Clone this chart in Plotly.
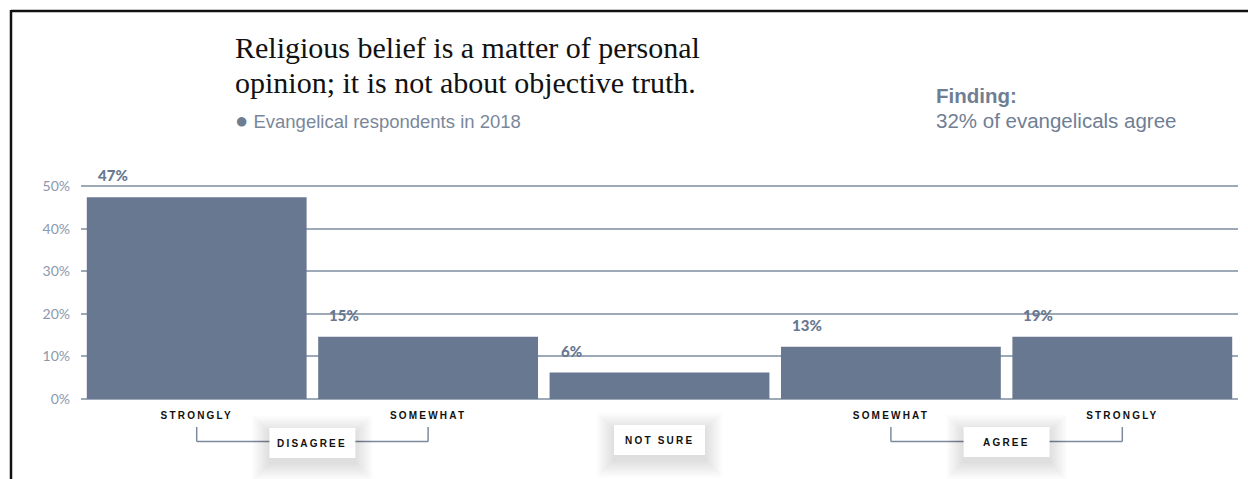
import plotly.graph_objects as go

# ---------------- data ----------------
categories = ["Strongly disagree", "Somewhat disagree", "Not sure", "Somewhat agree", "Strongly agree"]
values = [47.4, 14.6, 6.2, 12.3, 14.6]          # bar heights as drawn
value_labels = ["47%", "15%", "6%", "13%", "19%"]  # printed labels
tick_labels = ["STRONGLY", "SOMEWHAT", "", "SOMEWHAT", "STRONGLY"]
y_ticks = [0, 10, 20, 30, 40, 50]
y_tick_text = ["0%", "10%", "20%", "30%", "40%", "50%"]
groups = ["DISAGREE", "NOT SURE", "AGREE"]
title_lines = ["Religious belief is a matter of personal", "opinion; it is not about objective truth."]
legend_text = "Evangelical respondents in 2018"
finding_head = "Finding:"
finding_text = "32% of evangelicals agree"

# ---------------- layout geometry ----------------
W, H = 1248, 479
L, R, T, B = 81, 10, 184, 80
PW, PH = W - L - R, H - T - B
Y_MAX = 50.5

def px(x):
    return (x - L) / PW

def py(y):
    return (H - B - y) / PH

BAR = "#687891"
GRID = "#9ea9b8"
TICK = "#8c98ab"
BRACKET = "#7d8a9e"

def spaced(t, s=2.2):
    return "<span style='letter-spacing:%.1fpx'><b>%s</b></span>" % (s, t) if t else ""

xs = list(range(len(categories)))

fig = go.Figure()
fig.add_trace(go.Bar(
    x=xs, y=values, marker=dict(color=BAR, line=dict(width=0)),
    hoverinfo="skip", showlegend=False, cliponaxis=False,
))

annotations = []
# value labels
for i, (v, lab) in enumerate(zip(values, value_labels)):
    annotations.append(dict(
        x=i - 0.475, y=v, xref="x", yref="y", text=lab, showarrow=False,
        xanchor="left", yanchor="bottom", xshift=9, yshift=11,
        font=dict(family="Lato", size=15, color=BAR, weight=900),
    ))

# title
for line, yc in zip(title_lines, [48, 83]):
    annotations.append(dict(x=px(233), y=py(yc), xref="paper", yref="paper", text=line,
                            showarrow=False, xanchor="left", yanchor="middle",
                            font=dict(family="Liberation Serif", size=30, color="#111111")))
# legend
annotations.append(dict(x=px(233), y=py(120), xref="paper", yref="paper",
                        text="<span style='color:#6f7d91;font-size:22px'>●</span> " + legend_text,
                        showarrow=False, xanchor="left", yanchor="middle",
                        font=dict(family="Liberation Sans", size=18.5, color="#7a879a")))
# finding
annotations.append(dict(x=px(934), y=py(95), xref="paper", yref="paper", text="<b>" + finding_head + "</b>",
                        showarrow=False, xanchor="left", yanchor="middle",
                        font=dict(family="Liberation Sans", size=20.5, color="#6f7e94")))
annotations.append(dict(x=px(934), y=py(120), xref="paper", yref="paper", text=finding_text,
                        showarrow=False, xanchor="left", yanchor="middle",
                        font=dict(family="Liberation Sans", size=20.5, color="#6f7e94")))

shapes = []
# frame lines (top and left)
shapes.append(dict(type="line", xref="paper", yref="paper", x0=px(11), x1=px(W + 5), y0=py(11), y1=py(11),
                   line=dict(color="#111111", width=2.5)))
shapes.append(dict(type="line", xref="paper", yref="paper", x0=px(11), x1=px(11), y0=py(10), y1=py(H + 5),
                   line=dict(color="#111111", width=2.5)))

# brackets
bracket_top, bracket_bot = py(427), py(441.5)
for a, b in [(0, 1), (3, 4)]:
    for xx in (a, b):
        shapes.append(dict(type="line", xref="x", yref="paper", x0=xx, x1=xx, y0=bracket_top, y1=bracket_bot,
                           line=dict(color=BRACKET, width=1.5)))
    shapes.append(dict(type="line", xref="x", yref="paper", x0=a, x1=b, y0=bracket_bot, y1=bracket_bot,
                       line=dict(color=BRACKET, width=1.5)))

# group boxes with soft shadow
box_specs = [(0.5, 86, 443), (2, 91, 440), (3.5, 86, 442)]
for (cx, bw, cy), g in zip(box_specs, groups):
    for k in range(16, 0, -1):
        shapes.append(dict(type="rect", xref="x", yref="paper", xsizemode="pixel", ysizemode="pixel",
                           xanchor=cx, yanchor=py(cy + 5),
                           x0=-bw / 2 - k * 1.1, x1=bw / 2 + k * 1.1, y0=-15 - k * 1.1, y1=15 + k * 1.1,
                           fillcolor="rgba(0,0,0,0.008)", line=dict(width=0), layer="above"))
    shapes.append(dict(type="rect", xref="x", yref="paper", xsizemode="pixel", ysizemode="pixel",
                       xanchor=cx, yanchor=py(cy), x0=-bw / 2, x1=bw / 2, y0=-15, y1=15,
                       fillcolor="white", line=dict(width=0), layer="above"))
    annotations.append(dict(x=cx, y=py(cy), xref="x", yref="paper", text=spaced(g, 2.2),
                            showarrow=False, xanchor="center", yanchor="middle",
                            font=dict(family="Liberation Sans", size=10, color="#111111")))

fig.update_layout(
    width=W, height=H,
    margin=dict(l=L, r=R, t=T, b=B, pad=0),
    paper_bgcolor="white", plot_bgcolor="white",
    bargap=0.05,
    showlegend=False,
    annotations=annotations,
    shapes=shapes,
    xaxis=dict(range=[-0.5, 4.5], tickvals=xs, ticktext=[spaced(t, 2.2) for t in tick_labels],
               showgrid=False, zeroline=False, showline=False, ticks="",
               tickfont=dict(family="Liberation Sans", size=10, color="#111111"),
               ticklabelstandoff=9, fixedrange=True),
    yaxis=dict(range=[0, Y_MAX], tickvals=y_ticks, ticktext=y_tick_text,
               showgrid=True, gridcolor=GRID, gridwidth=1.5,
               zeroline=True, zerolinecolor=GRID, zerolinewidth=1.5,
               showline=False, ticks="", ticklabelstandoff=10,
               tickfont=dict(family="Lato", size=14, color=TICK), fixedrange=True),
)

fig.write_html("out.html", config={"displayModeBar": False})
